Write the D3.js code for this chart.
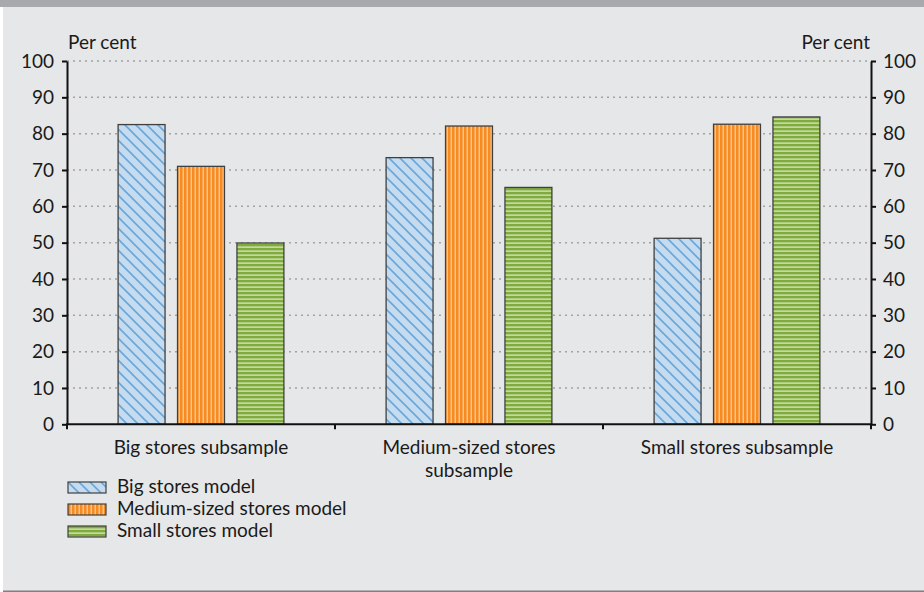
<!DOCTYPE html>
<html>
<head>
<meta charset="utf-8">
<script src="https://cdn.jsdelivr.net/npm/d3@7"></script>
<style>
  body { margin: 0; background: #fff; }
  svg text { font-family: Lato, "Open Sans", sans-serif; fill: #1a1a1a; }
</style>
</head>
<body>
<div id="chart"></div>
<script>
// data
var categories = ["Big stores subsample", "Medium-sized stores subsample", "Small stores subsample"];
var seriesNames = ["Big stores model", "Medium-sized stores model", "Small stores model"];
var bigModel = [82.5, 73.4, 51.2];
var mediumModel = [71.0, 82.1, 82.6];
var smallModel = [49.9, 65.2, 84.6];
var yTicks = [0, 10, 20, 30, 40, 50, 60, 70, 80, 90, 100];
var axisTitle = "Per cent";

var seriesValues = [bigModel, mediumModel, smallModel];
var patternIds = ["patBlue", "patOrange", "patGreen"];

var svgWidth = 924;
var svgHeight = 592;
var fontSize = 19;

var svg = d3.select("#chart")
    .append("svg")
    .attr("width", svgWidth)
    .attr("height", svgHeight);

// backgrounds
svg.append("rect").attr("x", 0).attr("y", 0).attr("width", svgWidth).attr("height", svgHeight).attr("fill", "#ffffff");
svg.append("rect").attr("x", 3).attr("y", 0).attr("width", svgWidth - 3).attr("height", svgHeight).attr("fill", "#e6e7e8");
svg.append("rect").attr("x", 0).attr("y", 0).attr("width", svgWidth).attr("height", 7).attr("fill", "#a7a9ac");
svg.append("rect").attr("x", 3).attr("y", 590.5).attr("width", svgWidth - 3).attr("height", 1.5).attr("fill", "#808080");

// patterns
var defs = svg.append("defs");

var pBlue = defs.append("pattern")
    .attr("id", "patBlue")
    .attr("patternUnits", "userSpaceOnUse")
    .attr("width", 11).attr("height", 11);
pBlue.append("rect").attr("width", 11).attr("height", 11).attr("fill", "#c5dcf0");
pBlue.append("path")
    .attr("d", "M-3,-3 L14,14 M-3,8 L3,14 M8,-3 L14,3")
    .attr("stroke", "#6aa6d8").attr("stroke-width", 1.6);

var pOrange = defs.append("pattern")
    .attr("id", "patOrange")
    .attr("patternUnits", "userSpaceOnUse")
    .attr("width", 4).attr("height", 4);
pOrange.append("rect").attr("width", 4).attr("height", 4).attr("fill", "#fbc28e");
pOrange.append("rect").attr("width", 2.5).attr("height", 4).attr("fill", "#f68b1f");

var pGreen = defs.append("pattern")
    .attr("id", "patGreen")
    .attr("patternUnits", "userSpaceOnUse")
    .attr("width", 4).attr("height", 4);
pGreen.append("rect").attr("width", 4).attr("height", 4).attr("fill", "#c4d99e");
pGreen.append("rect").attr("width", 4).attr("height", 2.3).attr("fill", "#7eaa3e");

// scales
var xScale = d3.scaleBand()
    .domain(categories)
    .range([67, 871])
    .padding(0);

var xInner = d3.scaleBand()
    .domain(seriesNames)
    .range([0, xScale.bandwidth()])
    .paddingInner(0.21)
    .paddingOuter(0.86);

var yScale = d3.scaleLinear()
    .domain([0, 100])
    .range([424.3, 61]);

// gridlines
svg.append("g")
    .selectAll("line")
    .data(yTicks.filter(d => d > 0))
    .enter()
    .append("line")
    .attr("x1", 67)
    .attr("x2", 871)
    .attr("y1", d => yScale(d))
    .attr("y2", d => yScale(d))
    .attr("stroke", "#a3a3a3")
    .attr("stroke-width", 1.5)
    .attr("stroke-dasharray", "2,4");

// bars
var barData = [];
categories.forEach(function (c, i) {
    seriesNames.forEach(function (s, j) {
        barData.push({ cat: c, series: s, value: seriesValues[j][i], pat: patternIds[j] });
    });
});

svg.append("g")
    .selectAll("rect")
    .data(barData)
    .enter()
    .append("rect")
    .attr("x", d => xScale(d.cat) + xInner(d.series))
    .attr("y", d => yScale(d.value))
    .attr("width", xInner.bandwidth())
    .attr("height", d => yScale(0) - yScale(d.value))
    .attr("fill", d => "url(#" + d.pat + ")")
    .attr("stroke", "#404040")
    .attr("stroke-width", 1.3);

// y axes
var leftAxis = d3.axisLeft(yScale).tickValues(yTicks).tickSize(5).tickSizeOuter(0).tickPadding(8);
var rightAxis = d3.axisRight(yScale).tickValues(yTicks).tickSize(5).tickSizeOuter(0).tickPadding(7);

function styleAxis(g) {
    g.select(".domain").attr("stroke", "#111").attr("stroke-width", 2);
    g.selectAll(".tick line").attr("stroke", "#111").attr("stroke-width", 2);
    g.selectAll(".tick text").attr("font-size", fontSize).attr("font-family", "Lato, sans-serif").attr("fill", "#1a1a1a");
}

svg.append("g")
    .attr("transform", "translate(67,0)")
    .call(leftAxis)
    .call(styleAxis);

svg.append("g")
    .attr("transform", "translate(871,0)")
    .call(rightAxis)
    .call(styleAxis);

// x axis line with boundary ticks
var xBase = yScale(0);
svg.append("line")
    .attr("x1", 66).attr("x2", 872)
    .attr("y1", xBase).attr("y2", xBase)
    .attr("stroke", "#111").attr("stroke-width", 2);

var boundaries = categories.map(c => xScale(c)).concat([xScale.range()[1]]);
svg.append("g")
    .selectAll("line")
    .data(boundaries)
    .enter()
    .append("line")
    .attr("x1", d => d).attr("x2", d => d)
    .attr("y1", xBase).attr("y2", xBase + 5)
    .attr("stroke", "#111").attr("stroke-width", 2);

// category labels, wrapped like the original (each line its own text)
var labelGroup = svg.append("g");
var measure = labelGroup.append("text").attr("font-size", fontSize).attr("opacity", 0);

categories.forEach(function (d) {
    var words = d.split(" ");
    var lines = [];
    var line = [];
    words.forEach(function (w) {
        line.push(w);
        measure.text(line.join(" "));
        if (measure.node().getComputedTextLength() > 235 && line.length > 1) {
            line.pop();
            lines.push(line.join(" "));
            line = [w];
        }
    });
    lines.push(line.join(" "));
    lines.forEach(function (l, i) {
        labelGroup.append("text")
            .attr("text-anchor", "middle")
            .attr("font-size", fontSize)
            .attr("x", xScale(d) + xScale.bandwidth() / 2)
            .attr("y", 454 + i * 23)
            .text(l);
    });
});
measure.remove();

// axis titles
svg.append("text")
    .attr("x", 68).attr("y", 49)
    .attr("font-size", fontSize)
    .text(axisTitle);

svg.append("text")
    .attr("x", 870).attr("y", 49)
    .attr("text-anchor", "end")
    .attr("font-size", fontSize)
    .text(axisTitle);

// legend
var legend = svg.append("g")
    .selectAll("g")
    .data(seriesNames)
    .enter()
    .append("g")
    .attr("transform", (d, i) => "translate(68," + (482 + i * 22) + ")");

legend.append("rect")
    .attr("width", 38)
    .attr("height", 11)
    .attr("fill", (d, i) => "url(#" + patternIds[i] + ")")
    .attr("stroke", "#404040")
    .attr("stroke-width", 1.2);

legend.append("text")
    .attr("x", 49)
    .attr("y", 11)
    .attr("font-size", fontSize)
    .text(d => d);
</script>
</body>
</html>
